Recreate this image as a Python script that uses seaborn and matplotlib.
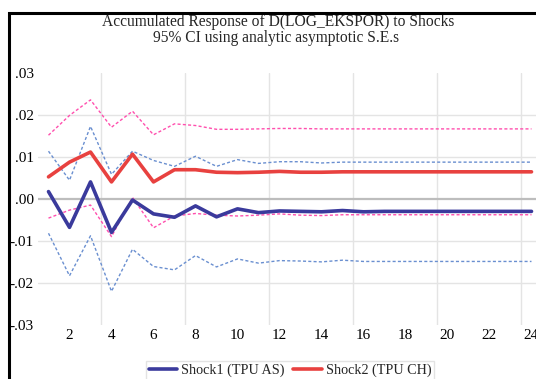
import matplotlib
matplotlib.use("Agg")
import matplotlib.pyplot as plt
import seaborn as sns
import pandas as pd
from matplotlib.patches import Rectangle

steps = list(range(1, 25))

shock1 = [0.0017, -0.0068, 0.0040, -0.0080, -0.0003, -0.0036, -0.0044, -0.0017,
          -0.0043, -0.0024, -0.0033, -0.0029, -0.0030, -0.0031, -0.0028, -0.0031,
          -0.0030, -0.0030, -0.0030, -0.0030, -0.0030, -0.0030, -0.0030, -0.0030]
shock1_hi = [0.0113, 0.0044, 0.0172, 0.0058, 0.0113, 0.0091, 0.0077, 0.0101,
             0.0077, 0.0093, 0.0084, 0.0088, 0.0088, 0.0085, 0.0087, 0.0087,
             0.0087, 0.0087, 0.0087, 0.0087, 0.0087, 0.0087, 0.0087, 0.0087]
shock1_lo = [-0.0082, -0.0183, -0.0088, -0.0220, -0.0120, -0.0161, -0.0169, -0.0135,
             -0.0162, -0.0143, -0.0153, -0.0147, -0.0148, -0.0150, -0.0146, -0.0149,
             -0.0149, -0.0149, -0.0149, -0.0149, -0.0149, -0.0149, -0.0149, -0.0149]
shock2 = [0.0052, 0.0087, 0.0111, 0.0040, 0.0106, 0.0040, 0.0069, 0.0069,
          0.0063, 0.0062, 0.0063, 0.0065, 0.0063, 0.0063, 0.0064, 0.0064,
          0.0064, 0.0064, 0.0064, 0.0064, 0.0064, 0.0064, 0.0064, 0.0064]
shock2_hi = [0.0151, 0.0198, 0.0235, 0.0170, 0.0208, 0.0152, 0.0178, 0.0174,
             0.0165, 0.0165, 0.0166, 0.0167, 0.0167, 0.0166, 0.0166, 0.0166,
             0.0166, 0.0166, 0.0166, 0.0166, 0.0166, 0.0166, 0.0166, 0.0166]
shock2_lo = [-0.0046, -0.0027, -0.0015, -0.0090, 0.0003, -0.0069, -0.0041, -0.0035,
             -0.0039, -0.0041, -0.0039, -0.0036, -0.0039, -0.0040, -0.0038, -0.0038,
             -0.0038, -0.0038, -0.0038, -0.0038, -0.0038, -0.0038, -0.0038, -0.0038]

ytick_vals = [-0.03, -0.02, -0.01, 0.0, 0.01, 0.02, 0.03]
ytick_labels = ["-.03", "-.02", "-.01", ".00", ".01", ".02", ".03"]
xtick_vals = list(range(2, 25, 2))
title_lines = ["Accumulated Response of D(LOG_EKSPOR) to Shocks",
               "95% CI using analytic asymptotic S.E.s"]
legend_labels = ["Shock1 (TPU AS)", "Shock2 (TPU CH)"]

sns.set_theme(style="white")
plt.rcParams['font.family'] = ['Liberation Serif', 'DejaVu Serif']

W, H = 536, 379
fig = plt.figure(figsize=(W / 100, H / 100), dpi=100)
fig.patch.set_facecolor("white")

left, right, top, bottom = 38, 542, 72.5, 325
ax = fig.add_axes([left / W, 1 - bottom / H, (right - left) / W, (bottom - top) / H])
ax.set_facecolor("white")

df = pd.DataFrame({"step": steps, "s1": shock1, "s1h": shock1_hi, "s1l": shock1_lo,
                   "s2": shock2, "s2h": shock2_hi, "s2l": shock2_lo})

# grid
for v in [-0.02, -0.01, 0.01, 0.02]:
    ax.axhline(v, color="#e4e4e4", lw=1.0, zorder=0)
for v in [3.5, 7.5, 11.5, 15.5, 19.5, 23.5]:
    ax.axvline(v, color="#e4e4e4", lw=1.0, zorder=0)
ax.axhline(0, color="#bdbdbd", lw=1.6, zorder=0.5)

dash = (2.2, 1.6)
blue_d = "#6a8fd0"
pink_d = "#ff4fae"
sns.lineplot(data=df, x="step", y="s1h", ax=ax, color=blue_d, lw=1.0, dashes=False)
sns.lineplot(data=df, x="step", y="s1l", ax=ax, color=blue_d, lw=1.0, dashes=False)
sns.lineplot(data=df, x="step", y="s2h", ax=ax, color=pink_d, lw=1.0, dashes=False)
sns.lineplot(data=df, x="step", y="s2l", ax=ax, color=pink_d, lw=1.0, dashes=False)
for ln in ax.get_lines()[-4:]:
    ln.set_dashes(dash)
sns.lineplot(data=df, x="step", y="s1", ax=ax, color="#3a3a9c", lw=2.6, label=legend_labels[0])
sns.lineplot(data=df, x="step", y="s2", ax=ax, color="#e8413f", lw=2.6, label=legend_labels[1])

ax.set_xlim(0.5, 24.5)
ax.set_ylim(-0.03, 0.03)
ax.set_yticks(ytick_vals)
ax.set_yticklabels(ytick_labels)
ax.set_xticks(xtick_vals)
ax.set_xticklabels([str(v) for v in xtick_vals])
ax.tick_params(axis="both", length=0, labelsize=11, colors="black", pad=3)
ax.set_xlabel("")
ax.set_ylabel("")
for s in ax.spines.values():
    s.set_visible(False)

leg = ax.legend(loc="upper center", bbox_to_anchor=(290 / W, 1 - 361 / H),
                bbox_transform=fig.transFigure, ncol=2, frameon=True, fontsize=10.2,
                handlelength=2.0, handletextpad=0.3, columnspacing=0.6,
                borderpad=0.2, borderaxespad=0, fancybox=False)
leg.get_frame().set_edgecolor("#dddddd")
leg.get_frame().set_linewidth(1.0)

fig.text(278 / W, 1 - 26.5 / H, title_lines[0], ha="center", va="baseline", fontsize=11.2)
fig.text(276 / W, 1 - 42.5 / H, title_lines[1], ha="center", va="baseline", fontsize=11.2)

fig.patches.append(Rectangle((9 / W, -0.2), 2.0, 1 - 12.5 / H + 0.2, fill=False,
                             ec="black", lw=2.2, transform=fig.transFigure, zorder=10))

fig.savefig("out.png", dpi=100)
